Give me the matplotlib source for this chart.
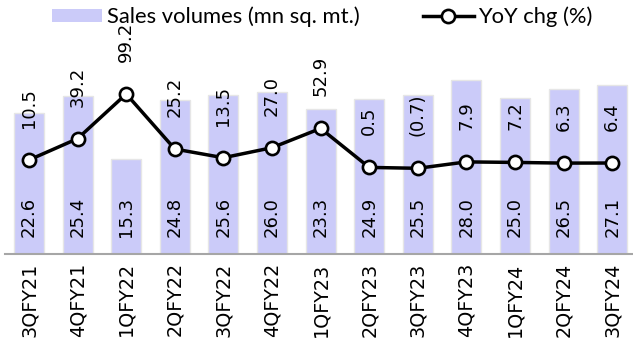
import matplotlib.pyplot as plt
from matplotlib.patches import Patch
from matplotlib.lines import Line2D

quarters = ["3QFY21", "4QFY21", "1QFY22", "2QFY22", "3QFY22", "4QFY22", "1QFY23",
            "2QFY23", "3QFY23", "4QFY23", "1QFY24", "2QFY24", "3QFY24"]
volumes = [22.6, 25.4, 15.3, 24.8, 25.6, 26.0, 23.3, 24.9, 25.5, 28.0, 25.0, 26.5, 27.1]
yoy = [10.5, 39.2, 99.2, 25.2, 13.5, 27.0, 52.9, 0.5, -0.7, 7.9, 7.2, 6.3, 6.4]

bar_color = "#CBCBF9"

fig = plt.figure(figsize=(6.33, 3.51), dpi=100)
ax = fig.add_axes([5 / 633, 97 / 351, 628 / 633, 224 / 351])
x = list(range(len(quarters)))

ax.bar(x, volumes, width=0.62, color=bar_color, edgecolor="#E6E6E6", linewidth=1.0, zorder=2)
ax.set_xlim(-0.494, 12.428)
ax.set_ylim(0, 36.0)

# volume labels sit inside the base of each bar
for xi, v in zip(x, volumes):
    ax.annotate(f"{v:.1f}", (xi, 0), xytext=(0, 12), textcoords="offset points",
                rotation=90, ha="center", va="bottom", fontsize=13, color="black")

ax2 = ax.twinx()
ax2.plot(x, yoy, color="black", lw=2.5, marker="o", ms=9.5, mfc="white",
         mec="black", mew=1.9, zorder=5)
ax2.set_ylim(-115.9, 185.2)

for xi, v in zip(x, yoy):
    txt = f"({abs(v):.1f})" if v < 0 else f"{v:.1f}"
    ax2.annotate(txt, (xi, v), xytext=(0, 23), textcoords="offset points",
                 rotation=90, ha="center", va="bottom", fontsize=13,
                 color="black", annotation_clip=False)

for a in (ax, ax2):
    for side in ("top", "right", "left"):
        a.spines[side].set_visible(False)
    a.set_yticks([])
ax.spines["bottom"].set_color("#A6A6A6")
ax.spines["bottom"].set_linewidth(1.5)
ax2.spines["bottom"].set_visible(False)

ax.set_xticks(x)
ax.set_xticklabels(quarters, rotation=90, fontsize=13.8)
ax.tick_params(axis="x", length=0, pad=6)

handles = [Patch(facecolor=bar_color, edgecolor="none"),
           Line2D([], [], color="black", lw=2.5, marker="o", ms=9.5, mfc="white",
                  mec="black", mew=1.9)]
fig.legend(handles, ["Sales volumes (mn sq. mt.)", "YoY chg (%)"], ncol=2,
           loc="upper left", bbox_to_anchor=(41 / 633, 1.013), frameon=False,
           prop={"family": "Lato", "size": 15.8}, handlelength=2.3, handleheight=0.55,
           handletextpad=0.2, columnspacing=2.9, borderaxespad=0.1)

fig.savefig("out.png", dpi=100)
